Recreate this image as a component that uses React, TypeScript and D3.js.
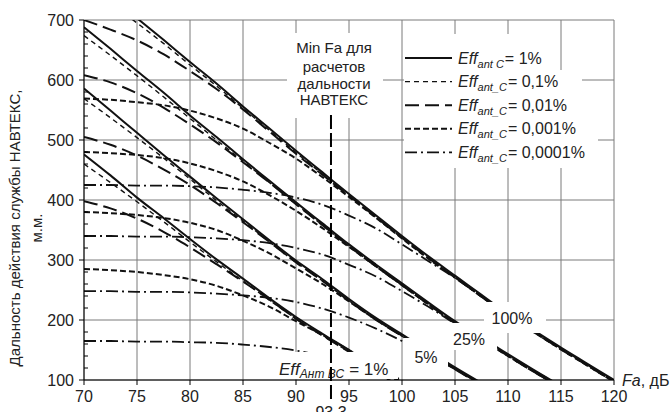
import * as d3 from "d3"

// Fa grid (dB) shared by every curve, step 2.5
const faGrid = [70, 72.5, 75, 77.5, 80, 82.5, 85, 87.5, 90, 92.5, 95, 97.5, 100, 102.5, 105, 107.5, 110, 112.5, 115, 117.5, 120]
const xTicks = [70, 75, 80, 85, 90, 95, 100, 105, 110, 115, 120]
const yTicks = [100, 200, 300, 400, 500, 600, 700]
const effLabels = ["1%", "0,1%", "0,01%", "0,001%", "0,0001%"]
const minFa = 93.3

// Eff_AntBC = 100%
const r100_1 = [null, 738, 703, 667, 630, 594, 556, 519, 482, 446, 410, 375, 340, 306, 274, 242, 210, 182, 154, 127, 100]
const r100_01 = [null, 728, 695, 661, 625, 590, 553, 516, 479, 443, 407, 372, 337, 303, 271, 239, 207, 179, 151, 124, 97]
const r100_001 = [700, 684, 666, 643, 615, 585, 551, 514, 477, 442, 407, 372, 337, 303, 271, 239, 207, 179, 151, 124, 97]
const r100_0001 = [569, 567, 563, 558, 549, 536, 519, 495, 469, 438, 405, 371, 336, 302, 271, 239, 207, 179, 151, 124, 97]
const r100_00001 = [425, 425, 424, 424, 423, 421, 417, 412, 404, 392, 374, 353, 326, 298, 270, 239, 208, 180, 153, 125, 99]

// Eff_AntBC = 25%
const r25_1 = [688, 652, 615, 579, 541, 505, 468, 432, 396, 361, 326, 293, 261, 229, 198, 171, 143, 116, 90, null, null]
const r25_01 = [674, 641, 607, 572, 536, 500, 465, 429, 393, 358, 323, 290, 258, 226, 195, 168, 140, 113, 87, null, null]
const r25_001 = [608, 596, 578, 554, 526, 496, 463, 429, 393, 358, 323, 290, 258, 226, 195, 168, 140, 113, 87, null, null]
const r25_0001 = [480, 478, 475, 470, 461, 448, 431, 408, 382, 353, 322, 290, 258, 226, 195, 168, 140, 113, 87, null, null]
const r25_00001 = [340, 340, 339, 339, 338, 336, 333, 328, 320, 309, 292, 273, 248, 222, 194, 168, 142, 115, 90, null, null]

// Eff_AntBC = 5%
const r5_1 = [586, 549, 512, 475, 439, 403, 368, 333, 299, 268, 235, 204, 176, 149, 121, 95, null, null, null, null, null]
const r5_01 = [569, 537, 504, 470, 435, 399, 365, 330, 296, 265, 232, 201, 173, 146, 118, 92, null, null, null, null, null]
const r5_001 = [505, 492, 474, 451, 425, 395, 363, 330, 296, 265, 232, 201, 173, 146, 118, 92, null, null, null, null, null]
const r5_0001 = [380, 378, 375, 370, 362, 350, 332, 311, 286, 260, 231, 201, 174, 147, 119, 93, null, null, null, null, null]
const r5_00001 = [248, 248, 247, 247, 246, 244, 241, 237, 230, 219, 204, 186, 165, 142, 118, 93, null, null, null, null, null]

// Eff_AntBC = 1%
const r1_1 = [476, 441, 404, 370, 335, 301, 269, 236, 205, 177, 150, 122, 96, null, null, null, null, null, null, null, null]
const r1_01 = [460, 429, 397, 364, 330, 297, 265, 233, 202, 174, 147, 119, 93, null, null, null, null, null, null, null, null]
const r1_001 = [398, 386, 369, 347, 321, 293, 264, 234, 202, 174, 147, 119, 93, null, null, null, null, null, null, null, null]
const r1_0001 = [285, 283, 280, 275, 268, 257, 241, 222, 198, 175, 150, 124, 99, null, null, null, null, null, null, null, null]
const r1_00001 = [165, 165, 164, 164, 163, 162, 159, 155, 149, 140, 126, 110, 90, null, null, null, null, null, null, null, null]

const curves = [
  { eff: 0, vals: [r100_1, r25_1, r5_1, r1_1] },
  { eff: 1, vals: [r100_01, r25_01, r5_01, r1_01] },
  { eff: 2, vals: [r100_001, r25_001, r5_001, r1_001] },
  { eff: 3, vals: [r100_0001, r25_0001, r5_0001, r1_0001] },
  { eff: 4, vals: [r100_00001, r25_00001, r5_00001, r1_00001] },
]

const effDash = ["", "5,4", "14,6", "6,3", "12,4,2,4"]
const effWidth = [2, 1.4, 2, 2, 1.8]

const font = "'Liberation Sans', Arial, sans-serif"
const ink = "#222"
const gridColor = "#7a7a7a"

export default function App() {
  const x = d3.scaleLinear().domain([70, 120]).range([84, 614])
  const y = d3.scaleLinear().domain([100, 700]).range([380, 20])
  const line = d3.line<number | null>()
    .defined(d => d != null)
    .x((d, i) => x(faGrid[i]))
    .y(d => y(d as number))
    .curve(d3.curveMonotoneX)

  const minorY = d3.range(100, 700, 20).filter(v => v % 100 !== 0)
  const legendRight = [552, 582, 590, 598, 605]
  const legendTop = [34, 70, 94, 117, 141]
  const legendBottom = [70, 94, 117, 141, 168]

  return (
    <svg width={672} height={412} style={{ position: "absolute", left: 0, top: 0, display: "block" }}
      fontFamily={font} fill={ink}>
      <rect width={672} height={412} fill="#fff" />
      <defs>
        <clipPath id="plot">
          <rect x={x(70)} y={y(700)} width={x(120) - x(70)} height={y(100) - y(700)} />
        </clipPath>
      </defs>

      {/* grid */}
      {xTicks.map(t => (
        <line key={"gx" + t} x1={x(t)} x2={x(t)} y1={y(700)} y2={y(100)} stroke={gridColor} strokeWidth={1} />
      ))}
      {yTicks.map(t => (
        <line key={"gy" + t} x1={x(70)} x2={x(120)} y1={y(t)} y2={y(t)} stroke={gridColor} strokeWidth={1} />
      ))}

      {/* curves */}
      <g clipPath="url(#plot)" fill="none" stroke="#111">
        {curves.slice().reverse().map(c =>
          c.vals.map((v, j) => (
            <path key={c.eff + "-" + j} d={line(v) || ""} strokeDasharray={effDash[c.eff] || undefined}
              strokeWidth={effWidth[c.eff]} />
          ))
        )}
      </g>

      {/* white boxes behind annotations */}
      <g fill="#fff">
        <rect x={287} y={33} width={96} height={85} />
        {legendRight.map((r, i) => (
          <rect key={"lb" + i} x={404} y={legendTop[i]} width={r - 404} height={legendBottom[i] - legendTop[i]} />
        ))}
        <rect x={484} y={302} width={62} height={31} />
        <rect x={452} y={323} width={45} height={27} />
        <rect x={404} y={338} width={44} height={34} />
        <rect x={268} y={352} width={130} height={27} />
      </g>

      {/* axes */}
      <line x1={x(70)} x2={x(70)} y1={y(700)} y2={y(100)} stroke="#000" />
      <line x1={x(70)} x2={x(120)} y1={y(100)} y2={y(100)} stroke="#000" />
      {yTicks.map(t => (
        <g key={"yt" + t}>
          <line x1={x(70) - 5} x2={x(70)} y1={y(t)} y2={y(t)} stroke="#000" />
          <text x={74} y={y(t) + 5.5} textAnchor="end" fontSize={16}>{t}</text>
        </g>
      ))}
      {minorY.map(t => (
        <line key={"my" + t} x1={x(70)} x2={x(70) + 4} y1={y(t)} y2={y(t)} stroke="#000" />
      ))}
      {xTicks.map(t => (
        <g key={"xt" + t}>
          <line x1={x(t)} x2={x(t)} y1={y(100)} y2={y(100) + 5} stroke="#000" />
          <text x={x(t)} y={402} textAnchor="middle" fontSize={16}>{t}</text>
        </g>
      ))}

      {/* axis titles */}
      <text transform="translate(20,228) rotate(-90)" textAnchor="middle" fontSize={15}>
        Дальность действия службы НАВТЕКС,
      </text>
      <text transform="translate(42,228) rotate(-90)" textAnchor="middle" fontSize={15}>м.м.</text>
      <text x={622} y={386} fontSize={16}>
        <tspan fontStyle="italic">Fa</tspan>, дБ
      </text>

      {/* Min Fa annotation */}
      <g fontSize={15} textAnchor="middle">
        <text x={334} y={53}>Min Fa для</text>
        <text x={334} y={71.5}>расчетов</text>
        <text x={334} y={88.5}>дальности</text>
        <text x={334} y={105}>НАВТЕКС</text>
      </g>

      {/* legend */}
      {effLabels.map((lab, i) => {
        const cy = 58 + i * 23.6
        return (
          <g key={"lg" + i}>
            <line x1={405} x2={452} y1={cy} y2={cy} stroke="#111" strokeWidth={effWidth[i]}
              strokeDasharray={effDash[i] || undefined} />
            <text x={458} y={cy + 5.5} fontSize={16}>
              <tspan fontStyle="italic">Eff</tspan>
              <tspan fontStyle="italic" fontSize={11} dy={4}>{i === 0 ? "ant C" : "ant_C"}</tspan>
              <tspan dy={-4} dx={1}>= {lab}</tspan>
            </text>
          </g>
        )
      })}

      {/* group labels */}
      <g fontSize={16} textAnchor="middle">
        <text x={512} y={324}>100%</text>
        <text x={469} y={345}>25%</text>
        <text x={426} y={363}>5%</text>
      </g>
      <text x={279} y={375} fontSize={17}>
        <tspan fontStyle="italic">Eff</tspan>
        <tspan fontStyle="italic" fontSize={12} dy={3}>Ант ВС</tspan>
        <tspan dy={-3} dx={5}>= 1%</tspan>
      </text>

      {/* Min Fa marker */}
      <line x1={x(minFa)} x2={x(minFa)} y1={115} y2={400} stroke="#000" strokeWidth={2} strokeDasharray="14,4" />
      <text x={x(minFa)} y={418} textAnchor="middle" fontSize={16}>93,3</text>
    </svg>
  )
}
